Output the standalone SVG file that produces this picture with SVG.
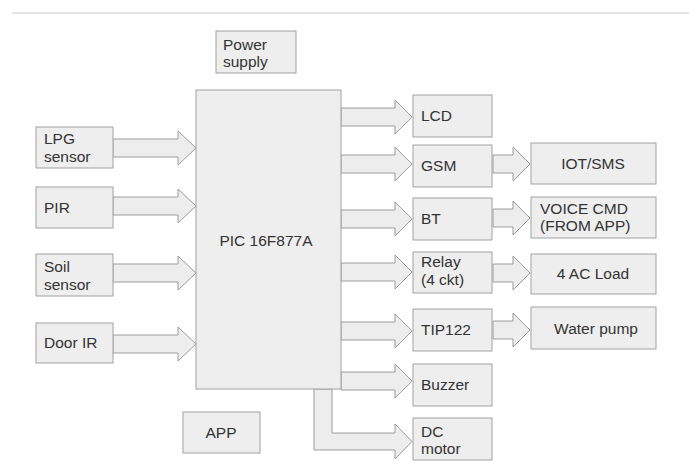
<svg xmlns="http://www.w3.org/2000/svg" width="689" height="469" viewBox="0 0 689 469">
<style>
.box{fill:#eeeeee;stroke:#a2a2a2;stroke-width:1}
.arr{fill:#ededed;stroke:#9c9c9c;stroke-width:1;stroke-linejoin:miter}
text{font-family:"Liberation Sans",Arial,sans-serif;font-size:15.5px;fill:#333333}
.c{text-anchor:middle}
</style>
<rect x="0" y="0" width="689" height="469" fill="#ffffff"/>
<line x1="12" y1="13" x2="689" y2="13" stroke="#e4e4e4" stroke-width="2"/>
<g id="connectors">
<path class="arr" d="M113,139H178V131L196,148L178,165V157H113Z"/>
<path class="arr" d="M113,197H178V189L196,206L178,223V215H113Z"/>
<path class="arr" d="M113,264H178V256L196,273L178,290V282H113Z"/>
<path class="arr" d="M113,335H178V327L196,344L178,361V353H113Z"/>
<path class="arr" d="M341,108H395V100L412,117L395,134V126H341Z"/>
<path class="arr" d="M341,155H395V147L412,164L395,181V173H341Z"/>
<path class="arr" d="M341,210H395V202L412,219L395,236V228H341Z"/>
<path class="arr" d="M341,263H395V255L412,272L395,289V281H341Z"/>
<path class="arr" d="M341,322H395V314L412,331L395,348V340H341Z"/>
<path class="arr" d="M341,372H395V364L412,381L395,398V390H341Z"/>
<path class="arr" d="M493,155H513V147L530,164L513,181V173H493Z"/>
<path class="arr" d="M493,209H513V201L530,218L513,235V227H493Z"/>
<path class="arr" d="M493,264H513V256L530,273L513,290V282H493Z"/>
<path class="arr" d="M493,321H513V313L530,330L513,347V339H493Z"/>
<path class="arr" d="M332,389V433H395V424L412,441.5L395,459V450H314V389Z"/>
</g>
<g id="power"><rect class="box" x="216" y="31" width="80" height="42"/><text x="223" y="50">Power</text><text x="223" y="67">supply</text></g>
<g id="pic"><rect class="box" x="196" y="90" width="145" height="299"/><text class="c" x="266" y="246">PIC 16F877A</text></g>
<g id="lpg"><rect class="box" x="36" y="127" width="77" height="41"/><text x="44" y="144">LPG</text><text x="44" y="162">sensor</text></g>
<g id="pir"><rect class="box" x="36" y="187" width="77" height="41"/><text x="44" y="213">PIR</text></g>
<g id="soil"><rect class="box" x="36" y="254" width="77" height="42"/><text x="44" y="272">Soil</text><text x="44" y="290">sensor</text></g>
<g id="door"><rect class="box" x="36" y="323" width="77" height="40"/><text x="44" y="348">Door IR</text></g>
<g id="lcd"><rect class="box" x="413" y="95" width="79" height="42"/><text x="421" y="121">LCD</text></g>
<g id="gsm"><rect class="box" x="413" y="145" width="79" height="42"/><text x="421" y="171">GSM</text></g>
<g id="bt"><rect class="box" x="413" y="198" width="79" height="42"/><text x="421" y="224">BT</text></g>
<g id="relay"><rect class="box" x="413" y="252" width="79" height="41"/><text x="421" y="267">Relay</text><text x="421" y="285">(4 ckt)</text></g>
<g id="tip122"><rect class="box" x="413" y="309" width="79" height="42"/><text x="421" y="335">TIP122</text></g>
<g id="buzzer"><rect class="box" x="413" y="364" width="79" height="42"/><text x="421" y="390">Buzzer</text></g>
<g id="dcmotor"><rect class="box" x="413" y="418" width="79" height="42"/><text x="421" y="437">DC</text><text x="421" y="454">motor</text></g>
<g id="iotsms"><rect class="box" x="531" y="143" width="125" height="41"/><text class="c" x="593" y="169">IOT/SMS</text></g>
<g id="voice"><rect class="box" x="531" y="197" width="125" height="41"/><text x="540" y="214">VOICE CMD</text><text x="540" y="231">(FROM APP)</text></g>
<g id="acload"><rect class="box" x="531" y="254" width="125" height="40"/><text class="c" x="593" y="279">4 AC Load</text></g>
<g id="water"><rect class="box" x="531" y="307" width="125" height="42"/><text class="c" x="596" y="334">Water pump</text></g>
<g id="app"><rect class="box" x="183" y="412" width="77" height="41"/><text class="c" x="221" y="438">APP</text></g>
</svg>
